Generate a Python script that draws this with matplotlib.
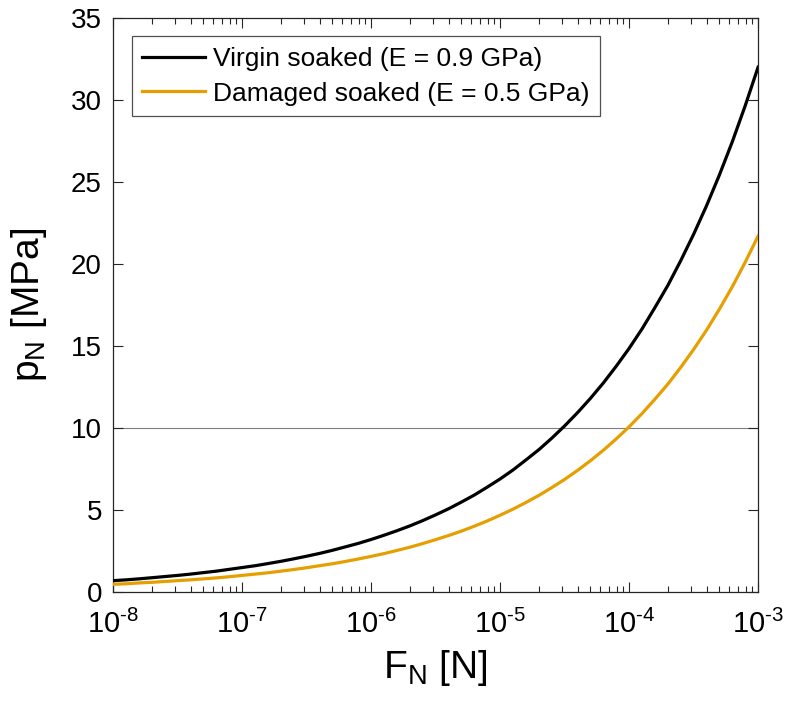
import matplotlib
matplotlib.use('Agg')
import matplotlib.pyplot as plt
from matplotlib.ticker import LogLocator, NullFormatter, FuncFormatter
import math

plt.rcParams['font.family'] = ['Liberation Sans', 'DejaVu Sans']
plt.rcParams['mathtext.fontset'] = 'custom'
plt.rcParams['mathtext.rm'] = 'Liberation Sans'
plt.rcParams['mathtext.it'] = 'Liberation Sans'

# normal force [N], tenth-decade steps from 1e-8 to 1e-3
mantissas = [1.0, 1.26, 1.58, 2.0, 2.51, 3.16, 3.98, 5.01, 6.31, 7.94]
decadas = [-8, -7, -6, -5, -4]
forca = [m * 10.0 ** d for d in decadas for m in mantissas] + [1e-3]

# contact pressure [MPa]
p_virgem = [0.69, 0.74, 0.80, 0.87, 0.94, 1.01, 1.09, 1.18, 1.27, 1.38,
            1.49, 1.60, 1.73, 1.87, 2.02, 2.18, 2.35, 2.54, 2.75, 2.96,
            3.20, 3.46, 3.73, 4.03, 4.35, 4.70, 5.07, 5.48, 5.91, 6.39,
            6.89, 7.44, 8.04, 8.68, 9.37, 10.12, 10.93, 11.80, 12.74, 13.76,
            14.85, 16.04, 17.32, 18.70, 20.19, 21.80, 23.54, 25.42, 27.45, 29.64,
            32.0]
p_danificado = [0.47, 0.50, 0.55, 0.59, 0.64, 0.69, 0.74, 0.80, 0.86, 0.93,
                1.01, 1.09, 1.17, 1.27, 1.37, 1.48, 1.60, 1.72, 1.86, 2.01,
                2.17, 2.34, 2.53, 2.73, 2.95, 3.19, 3.44, 3.71, 4.01, 4.33,
                4.68, 5.05, 5.45, 5.89, 6.36, 6.86, 7.41, 8.00, 8.64, 9.33,
                10.07, 10.88, 11.74, 12.68, 13.69, 14.78, 15.96, 17.24, 18.61, 20.10,
                21.70]

rotulos = ['Virgin soaked (E = 0.9 GPa)', 'Damaged soaked (E = 0.5 GPa)']
p_ref = 10


def rotulo_log(x, pos):
    # short hyphen in the exponent keeps the last label inside the figure
    e = int(round(math.log10(x)))
    return r'$\mathregular{10^{\text{-}%d}}$' % abs(e)


fig = plt.figure(figsize=(7.85, 7.05), dpi=100)
ax = fig.add_axes([0.144, 0.1603, 0.8217, 0.8142])

ax.axhline(p_ref, color='#7f7f7f', linewidth=0.8, zorder=1)
ax.plot(forca, p_virgem, color='black', linewidth=2.3, label=rotulos[0], zorder=3)
ax.plot(forca, p_danificado, color='#E69F00', linewidth=2.3, label=rotulos[1], zorder=3)

ax.set_xscale('log')
ax.set_xlim(1e-8, 1e-3)
ax.set_ylim(0, 35)
ax.set_yticks(range(0, 36, 5))
ax.xaxis.set_major_locator(LogLocator(base=10, numticks=10))
ax.xaxis.set_major_formatter(FuncFormatter(rotulo_log))
ax.xaxis.set_minor_locator(LogLocator(base=10, subs=range(2, 10), numticks=20))
ax.xaxis.set_minor_formatter(NullFormatter())

ax.tick_params(which='both', direction='in', top=True, right=True,
               color='#262626', labelsize=20)
ax.tick_params(axis='x', which='major', pad=13, labelsize=21)
ax.tick_params(axis='y', which='major', pad=8)
ax.tick_params(which='major', length=7, width=0.8)
ax.tick_params(which='minor', length=4, width=0.8)
for lado in ax.spines.values():
    lado.set_color('#262626')
    lado.set_linewidth(0.9)

ax.set_xlabel(r'F$_\mathregular{N}$ [N]', fontsize=28, labelpad=6)
ax.set_ylabel(r'p$_\mathregular{N}$ [MPa]', fontsize=28, labelpad=16)

leg = ax.legend(loc='upper left', fontsize=19, frameon=True, fancybox=False,
                edgecolor='#262626', borderpad=0.4, handlelength=2.4,
                handletextpad=0.3, labelspacing=0.4, borderaxespad=0.7)
leg.get_frame().set_linewidth(0.9)

fig.savefig('out.png', dpi=100)
plt.close(fig)
